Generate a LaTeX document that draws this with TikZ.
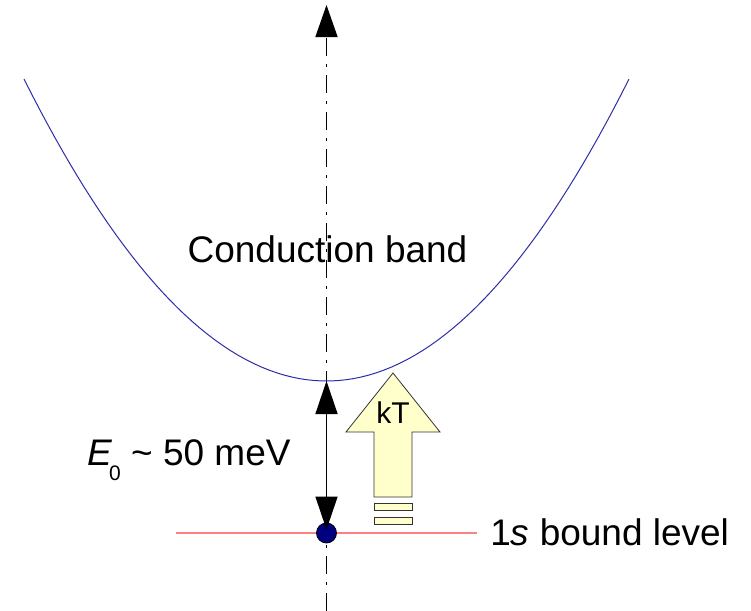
\documentclass[tikz,border=0pt]{standalone}
\usepackage{fontspec}
\setmainfont{Liberation Sans}
\usetikzlibrary{arrows.meta}
\definecolor{bandblue}{RGB}{45,45,170}
\definecolor{levelred}{RGB}{255,130,130}
\definecolor{kTfill}{RGB}{255,255,204}
\definecolor{dotnavy}{RGB}{0,0,128}
\tikzset{
    big label/.style={font=\fontsize{18.5}{20}\selectfont, inner sep=0pt},
    kT box/.style={draw=black!80, fill=kTfill, line width=0.4pt},
    gap arrow/.style={line width=0.7pt, {Triangle[length=16.5pt,width=11pt]}-{Triangle[length=16.5pt,width=11pt]}}
}
\begin{document}
\begin{tikzpicture}[x=0.5pt, y=-0.5pt]
        \useasboundingbox (0,0) rectangle (751,611);
        % energy axis, dash-dotted with arrow on top
        \coordinate (axbot) at (326.5,611);
        \coordinate (axtop) at (326.5,5);
        \draw[line width=0.75pt, dash pattern=on 9pt off 4pt on 1.5pt off 4pt, -{Triangle[length=16pt,width=11pt]}] (axbot) -- (axtop);
        % conduction band parabola, minimum at cbmin
        \coordinate (cbmin) at (326.5,381);
        \draw[bandblue, line width=0.5pt] plot[domain=-1:1, samples=80] ({326.5+302.5*\x}, {381-302*\x*\x});
        \node[big label, anchor=base] (cb) at (327.5,262) {Conduction band};
        
        % 1s bound level
        \coordinate (lvlL) at (176,533);
        \coordinate (lvlR) at (477,533);
        \draw[levelred, line width=0.6pt] (lvlL) -- (lvlR);
        \node[big label, anchor=base west] (bound) at (490,545) {1\textit{s} bound level};
        \node[circle, draw=black, fill=dotnavy, line width=0.4pt, minimum size=10pt, inner sep=0pt] (s1) at (326.5,533) {};
        
        % binding energy
        \draw[gap arrow] (cbmin) -- ([yshift=-3.5pt]s1.north);
        \node[big label, anchor=base east] (E0) at (291,465) {\textit{E}\kern-1.5pt\raisebox{-7.5pt}{\fontsize{10.5}{11}\selectfont 0}\ \textasciitilde{} 50 meV};
        
        % thermal kT arrow
        \draw[kT box] (374,497) -- (374,432) -- (346,432) -- (393,373) -- (440,432) -- (412,432) -- (412,497) -- cycle;
        \draw[kT box] (374,503) rectangle (412,510);
        \draw[kT box] (374,517) rectangle (412,524);
        \node[font=\fontsize{15}{16}\selectfont, inner sep=0pt, anchor=base] (kT) at (393,423) {kT};
    \end{tikzpicture}
\end{document}
